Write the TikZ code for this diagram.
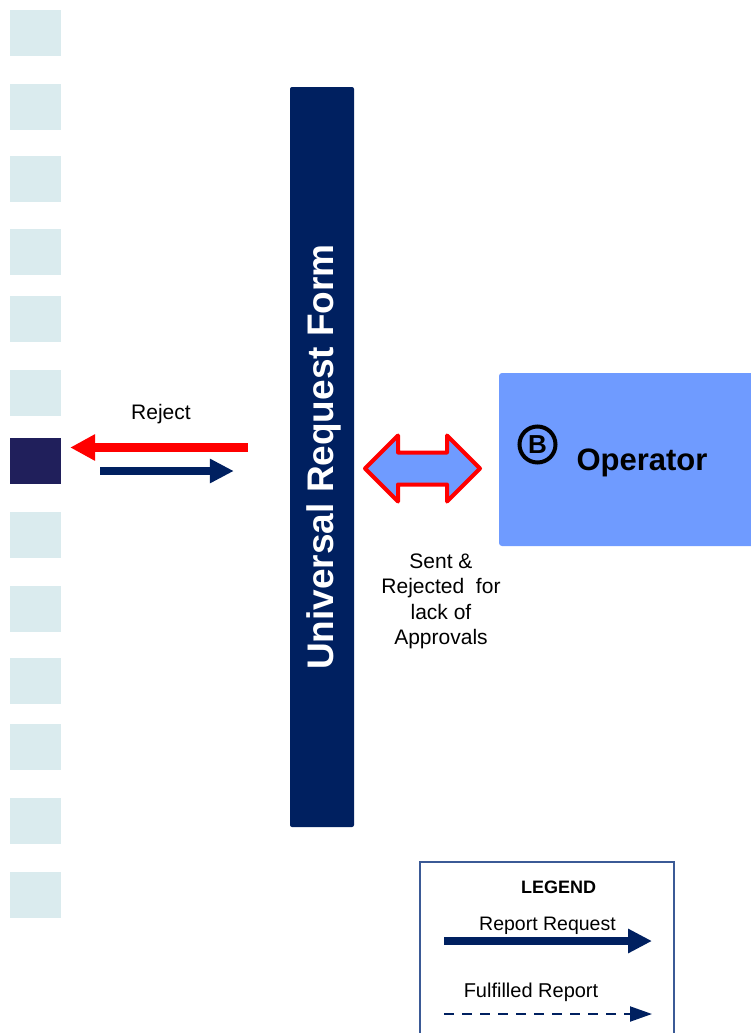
\documentclass[tikz,border=0pt]{standalone}
\usepackage{fontspec}
\setmainfont{Liberation Sans}
\usepackage{tikz}
\usetikzlibrary{positioning, arrows.meta, calc}

\definecolor{stubblue}{HTML}{DAEBEE}
\definecolor{stubdark}{HTML}{201F5B}
\definecolor{formnavy}{HTML}{002060}
\definecolor{opblue}{HTML}{6F9BFF}
\definecolor{legendline}{HTML}{3B5A96}

\tikzset{
    stub/.style={fill=#1, minimum width=51, minimum height=46, inner sep=0},
    formbar/.style={fill=formnavy, rounded corners=2, minimum width=64, minimum height=740, inner sep=0},
    opbox/.style={fill=opblue, rounded corners=3, minimum width=260, minimum height=173, inner sep=0},
    lbl/.style={inner sep=0, align=center, font=\fontsize{21}{25.5}\selectfont},
    rejectarrow/.style={draw=red, line width=8.5, -{Triangle[length=25, width=25]}},
    requestarrow/.style={draw=formnavy, line width=8, -{Triangle[length=24, width=23]}},
    fulfilledarrow/.style={draw=formnavy, line width=2, dash pattern=on 10 off 8, -{Triangle[length=22, width=15]}},
}

\begin{document}
\begin{tikzpicture}[x=1pt, y=-1pt]
    \useasboundingbox (0,0) rectangle (751,1033);

    % stubs on the left edge
    \foreach \yy/\co [count=\i] in {
        10/stubblue, 84/stubblue, 156/stubblue, 229/stubblue,
        296/stubblue, 370/stubblue, 438/stubdark, 512/stubblue,
        586/stubblue, 658/stubblue, 724/stubblue, 798/stubblue,
        872/stubblue}{
        \node[stub=\co] (sq\i) at (35.5, \yy + 23) {};
    }

    % request form bar
    \node[formbar] (urf) at (322,457) {};
    \node[rotate=90, text=white, font=\bfseries\fontsize{37}{40}\selectfont] (urftext) at ($(urf.center)+(2,0)$) {Universal Request Form};

    % operator
    \node[opbox] (op) at (629,459.5) {};
    \node[font=\bfseries\fontsize{31}{35}\selectfont, inner sep=0] (optext) at (642,463) {Operator};
    \node[circle, draw, line width=4, minimum size=36, inner sep=0, font=\bfseries\fontsize{26}{28}\selectfont] (opmark) at (537.5,444.5) {B};

    % arrows between stub and form
    \coordinate (rejtail) at ($(urf.west)+(-42,-9.5)$);
    \coordinate (rejtip) at ($(sq7.east)+(9,-13.5)$);
    \coordinate (reqtail) at ($(sq7.east)+(39,10)$);
    \coordinate (reqtip) at ($(urf.west)+(-56,14)$);
    \draw[rejectarrow] (rejtail) -- (rejtip);
    \draw[requestarrow] (reqtail) -- (reqtip);
    \node[lbl] (rej) at (161,414) {Reject};

    % double arrow between form and operator
    \coordinate (dbl) at (422.5,468.5);
    \draw[red, line width=4, fill=opblue, line join=round, shift={(dbl)}]
        (-57.5,0) -- (-24.5,-33) -- (-24.5,-16) -- (24.5,-16) -- (24.5,-33)
        -- (57.5,0) -- (24.5,33) -- (24.5,16) -- (-24.5,16) -- (-24.5,33) -- cycle;
    \node[lbl] (sent) at (441,601.5) {Sent \&\\Rejected\ \ for\\lack of\\Approvals};

    % legend
    \draw[legendline, line width=1.5] (420,1045) |- (674,862) -- (674,1045);
    \node[inner sep=0, font=\bfseries\fontsize{18}{20}\selectfont] (legtitle) at (558.5,887) {LEGEND};
    \node[inner sep=0, font=\fontsize{19.5}{22}\selectfont] (legreq) at (547.5,926) {Report Request};
    \node[inner sep=0, font=\fontsize{20}{22}\selectfont] (legful) at (531,992) {Fulfilled Report};
    \coordinate (lr1) at (444,941);
    \coordinate (lr2) at (652,941);
    \coordinate (lf1) at (444,1014);
    \coordinate (lf2) at (652,1014);
    \draw[requestarrow] (lr1) -- (lr2);
    \draw[fulfilledarrow] (lf1) -- (lf2);
\end{tikzpicture}
\end{document}
